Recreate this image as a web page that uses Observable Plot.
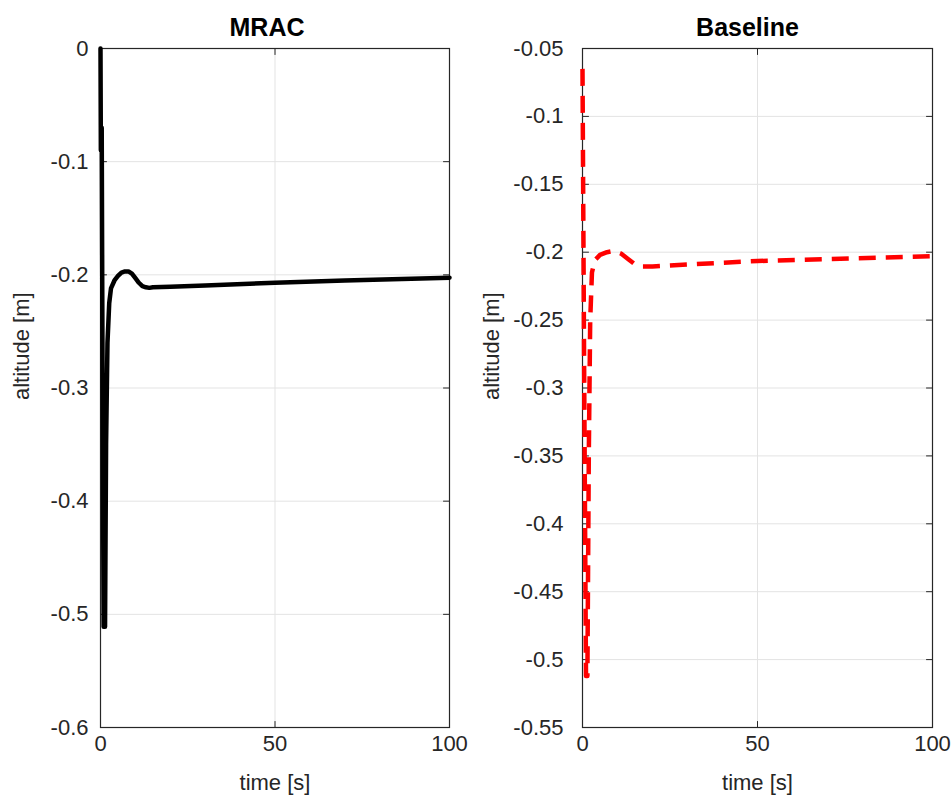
<!DOCTYPE html>
<html>
<head>
<meta charset="utf-8">
<script src="https://cdn.jsdelivr.net/npm/d3@7"></script>
<script src="https://cdn.jsdelivr.net/npm/@observablehq/plot@0.6"></script>
<style>
  html, body { margin: 0; padding: 0; background: #fff; }
  #wrap { position: relative; width: 952px; height: 803px; }
  #left, #right { position: absolute; top: 0; }
  #left { left: 0; }
  #right { left: 476px; }
</style>
</head>
<body>
<div id="wrap"><div id="left"></div><div id="right"></div></div>
<script>
// ---- data ----
const mracTime = [0, 0.1, 0.35, 0.6, 0.9, 1.3, 1.6, 2.0, 2.5, 3, 4, 5, 6, 7, 8, 9, 10, 11, 12, 13, 14, 15, 20, 30, 50, 70, 100];
const mracAlt  = [0, -0.09, -0.07, -0.3, -0.511, -0.511, -0.35, -0.26, -0.225, -0.212, -0.205, -0.201, -0.198, -0.197, -0.197, -0.199, -0.203, -0.207, -0.21, -0.211, -0.2115, -0.211, -0.2105, -0.2095, -0.207, -0.205, -0.2025];

const baseTime = [0, 0.5, 1.0, 1.4, 1.8, 2.2, 2.7, 3.5, 5, 7, 9, 11, 13, 15, 17, 20, 30, 50, 70, 100];
const baseAlt  = [-0.065, -0.3, -0.512, -0.512, -0.35, -0.25, -0.215, -0.206, -0.202, -0.2, -0.199, -0.201, -0.205, -0.209, -0.2105, -0.2105, -0.209, -0.2065, -0.205, -0.203];

const xTicks = [0, 50, 100];
const yTicksLeft = [0, -0.1, -0.2, -0.3, -0.4, -0.5, -0.6];
const yTicksRight = [-0.05, -0.1, -0.15, -0.2, -0.25, -0.3, -0.35, -0.4, -0.45, -0.5, -0.55];

const titles = ["MRAC", "Baseline"];
const xLabel = "time [s]";
const yLabel = "altitude [m]";

// ---- helpers ----
const AX = "#262626";
const FONT = "'Liberation Sans', Arial, Helvetica, sans-serif";
const tickShape = {draw(ctx, l) { ctx.moveTo(0, 0); ctx.lineTo(0, -l); }};
const fmt = d => String(+(+d).toFixed(2));

function panel({time, alt, yTicks, yDomain, title, stroke, dash, marginLeft, marginRight, titleDx, yLabelDx, yPad}) {
  const rows = time.map((t, i) => ({t, a: alt[i]}));
  const tickOpts = (rotate, frameAnchor, ticks, ch) => Plot.vector(ticks, {
    [ch]: d => d, frameAnchor, rotate, length: 6, anchor: "start",
    shape: tickShape, stroke: AX, strokeWidth: 1
  });
  return Plot.plot({
    width: 476, height: 803,
    marginLeft, marginRight, marginTop: 48, marginBottom: 76,
    style: {fontSize: "22px", fontFamily: FONT, color: AX, background: "transparent"},
    x: {domain: [0, 100]},
    y: {domain: yDomain},
    marks: [
      Plot.gridX(xTicks, {stroke: "#e3e3e3", strokeOpacity: 1}),
      Plot.gridY(yTicks, {stroke: "#e3e3e3", strokeOpacity: 1}),
      Plot.axisX(xTicks, {tickSize: 0, tickPadding: 8, tickFormat: fmt, label: null, fill: AX}),
      Plot.axisY(yTicks, {tickSize: 0, tickPadding: yPad, tickFormat: fmt, label: null, fill: AX}),
      tickOpts(90, "left", yTicks, "y"),
      tickOpts(-90, "right", yTicks, "y"),
      tickOpts(0, "bottom", xTicks, "x"),
      tickOpts(180, "top", xTicks, "x"),
      Plot.frame({stroke: AX, strokeWidth: 1.2}),
      Plot.line(rows, {x: "t", y: "a", stroke, strokeWidth: 4.5, strokeDasharray: dash, strokeLinejoin: "round", strokeLinecap: dash ? "butt" : "round"}),
      Plot.text([title], {text: d => d, frameAnchor: "top", lineAnchor: "middle", dy: -21, dx: titleDx, fontWeight: "bold", fontSize: 25, fill: "#000"}),
      Plot.text([xLabel], {text: d => d, frameAnchor: "bottom", lineAnchor: "middle", dy: 55, fontSize: 22, fill: AX}),
      Plot.text([yLabel], {text: d => d, frameAnchor: "left", dx: yLabelDx, dy: 12, rotate: -90, fontSize: 22, fill: AX})
    ]
  });
}

document.getElementById("left").append(panel({
  time: mracTime, alt: mracAlt, yTicks: yTicksLeft, yDomain: [-0.6, 0],
  title: titles[0], stroke: "#000", dash: null,
  marginLeft: 100, marginRight: 27, titleDx: -8, yLabelDx: -79, yPad: 12
}));
document.getElementById("right").append(panel({
  time: baseTime, alt: baseAlt, yTicks: yTicksRight, yDomain: [-0.55, -0.05],
  title: titles[1], stroke: "#ff0000", dash: "17,10",
  marginLeft: 106, marginRight: 20, titleDx: -10, yLabelDx: -91, yPad: 19
}));
</script>
</body>
</html>
